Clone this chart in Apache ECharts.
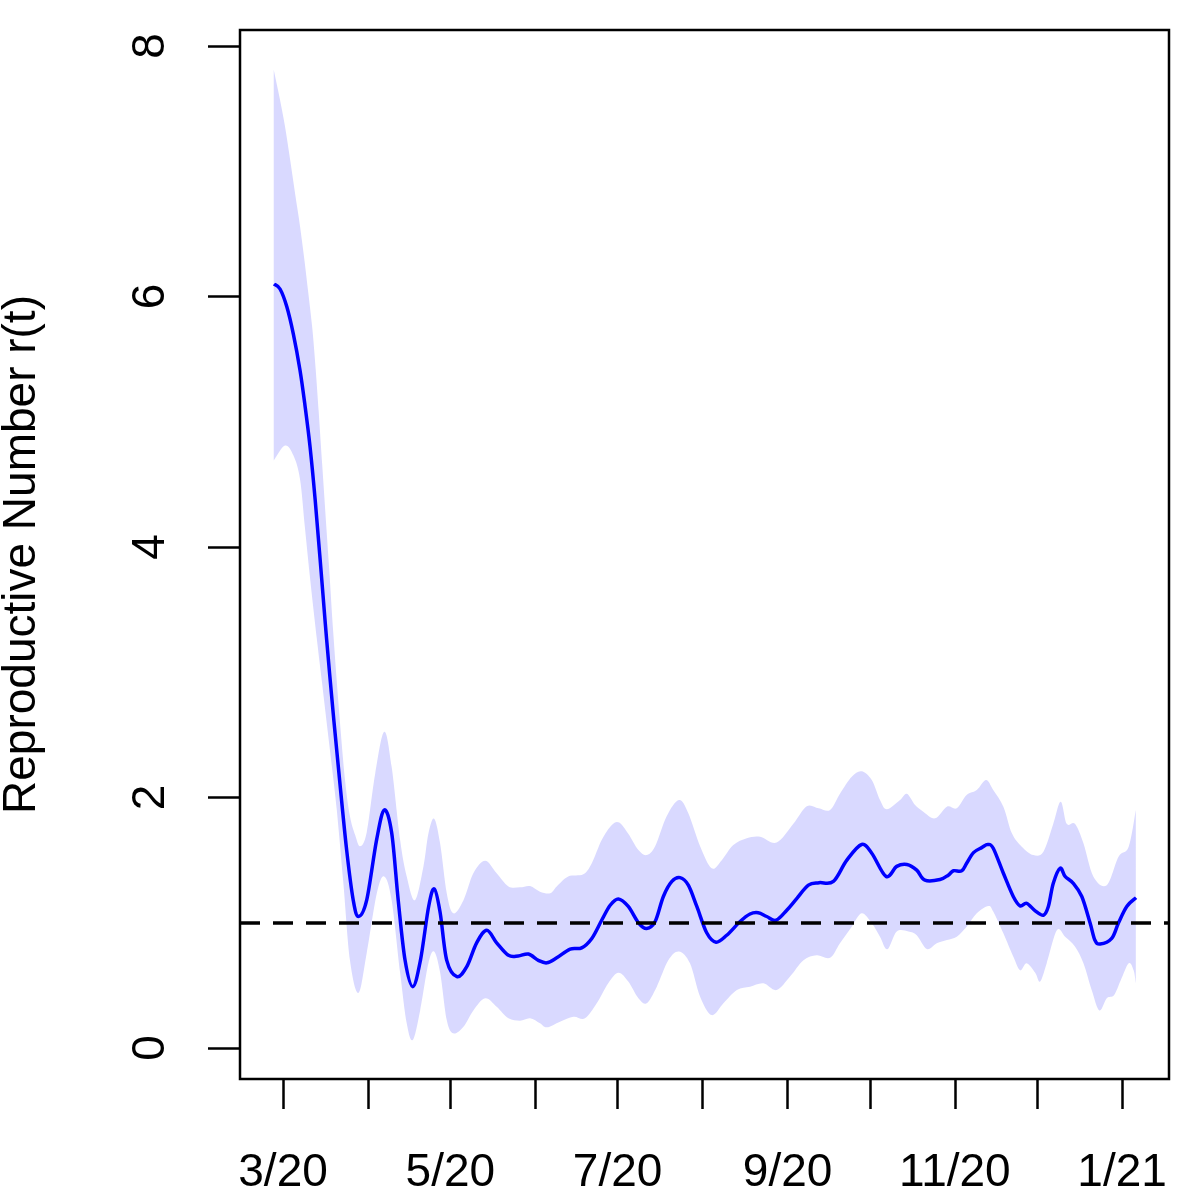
<!DOCTYPE html>
<html>
<head>
<meta charset="utf-8">
<script src="https://cdn.jsdelivr.net/npm/echarts@6/dist/echarts.min.js"></script>
<style>
html,body{margin:0;padding:0;background:#ffffff;}
#chart{width:1200px;height:1200px;}
</style>
</head>
<body>
<div id="chart"></div>
<script>
// Days are counted from 2020-03-01 (day 0).
const tickDays   = [0, 31, 61, 92, 122, 153, 184, 214, 245, 275, 306];
const tickLabels = ['3/20', '', '5/20', '', '7/20', '', '9/20', '', '11/20', '', '1/21'];
const yTicks = [0, 2, 4, 6, 8];
const threshold = 1;

const meanDays = [-3.3, -1.1, 1.35, 3.76, 6.2, 8.0, 9.85, 11.7, 13.75, 15.9, 18.3, 20.8, 23.2, 25.6, 27.5, 30.5, 34.1, 36.9, 39.6, 42.0,
  44.5, 47.3, 50.1, 53.1, 55.2, 57.3, 59.7, 63.4, 67.0, 70.6, 74.3, 77.9, 82.2, 85.8, 89.5, 93.1, 96.2, 99.8, 104.7, 108.9,
  112.6, 116.2, 119.3, 122.3, 125.9, 129.6, 132.6, 135.7, 138.7, 141.8, 144.8, 147.8, 150.9, 154.5, 157.9, 161.8, 166.7, 170.3, 173.3, 176.4,
  179.8, 183.7, 187.4, 191.6, 195.5, 200.7, 205.6, 211.0, 214.7, 219.9, 223.8, 227.5, 231.1, 234.1, 239.6, 242.6, 244.5, 247.5, 249.3, 251.8,
  254.8, 257.0, 259.0, 262.7, 266.3, 268.8, 271.2, 274.3, 277.3, 279.1, 280.9, 283.4, 285.2, 288.2, 291.3, 294.3, 296.1, 298.0, 302.2, 304.7,
  307.7, 311.1];
const meanR = [6.10, 6.06, 5.92, 5.70, 5.41, 5.13, 4.80, 4.38, 3.84, 3.26, 2.67, 2.10, 1.58, 1.18, 1.05, 1.18, 1.66, 1.90, 1.72, 1.18,
  0.70, 0.49, 0.70, 1.13, 1.27, 1.08, 0.70, 0.57, 0.65, 0.84, 0.94, 0.84, 0.74, 0.735, 0.75, 0.70, 0.68, 0.72, 0.79, 0.80,
  0.875, 1.02, 1.14, 1.19, 1.13, 1.00, 0.955, 1.01, 1.21, 1.33, 1.36, 1.30, 1.13, 0.92, 0.845, 0.90, 1.01, 1.07, 1.08, 1.05,
  1.02, 1.10, 1.195, 1.30, 1.32, 1.33, 1.50, 1.625, 1.555, 1.37, 1.45, 1.465, 1.42, 1.34, 1.345, 1.38, 1.415, 1.415, 1.475, 1.56,
  1.60, 1.625, 1.595, 1.395, 1.21, 1.135, 1.155, 1.095, 1.06, 1.13, 1.315, 1.435, 1.37, 1.315, 1.21, 1.00, 0.86, 0.83, 0.875, 1.00,
  1.13, 1.20];

const upperDays = [-3.4, -1.1, 0.7, 2.6, 4.4, 6.2, 7.8, 9.2, 10.7, 11.9, 13.0, 14.3, 15.6, 16.9, 18.3, 20.5, 22.6, 24.4, 26.3, 28.1,
  30.5, 33.6, 36.9, 39.6, 42.7, 45.1, 48.1, 51.2, 53.0, 55.1, 57.3, 59.7, 62.1, 65.8, 69.4, 73.7, 77.9, 82.2, 86.4, 90.1,
  93.7, 97.4, 99.8, 104.0, 109.5, 112.6, 116.2, 119.9, 122.6, 125.9, 129.6, 132.6, 135.7, 139.9, 144.4, 147.8, 152.1, 156.3, 160.0, 164.2,
  169.1, 174.0, 180.0, 186.1, 191.0, 195.3, 199.5, 203.1, 207.4, 211.0, 214.7, 217.7, 220.2, 225.0, 227.5, 230.5, 233.5, 237.8, 242.1, 245.7,
  249.3, 253.0, 256.4, 259.0, 262.7, 265.8, 269.4, 273.6, 277.3, 280.9, 283.6, 285.8, 288.8, 291.9, 295.5, 300.4, 304.7, 308.4, 311.0];
const upperR = [7.81, 7.57, 7.36, 7.09, 6.82, 6.56, 6.29, 6.03, 5.74, 5.42, 5.08, 4.65, 4.22, 3.80, 3.32, 2.67, 2.14, 1.85, 1.70, 1.61,
  1.72, 2.19, 2.525, 2.245, 1.66, 1.37, 1.18, 1.45, 1.71, 1.83, 1.63, 1.235, 1.075, 1.18, 1.395, 1.495, 1.395, 1.29, 1.283, 1.293,
  1.248, 1.235, 1.29, 1.37, 1.387, 1.475, 1.66, 1.78, 1.80, 1.71, 1.58, 1.54, 1.61, 1.85, 1.98, 1.874, 1.61, 1.435, 1.50, 1.62,
  1.675, 1.687, 1.64, 1.79, 1.93, 1.914, 1.90, 2.03, 2.166, 2.21, 2.14, 1.98, 1.906, 1.98, 2.03, 1.94, 1.887, 1.834, 1.927, 1.914,
  2.02, 2.06, 2.14, 2.06, 1.927, 1.714, 1.607, 1.54, 1.567, 1.79, 1.967, 1.79, 1.79, 1.634, 1.37, 1.30, 1.527, 1.607, 1.90];

const lowerDays = [-3.4, 0.7, 3.8, 6.2, 8.0, 10.0, 12.3, 14.2, 16.0, 17.8, 19.6, 22.0, 24.4, 27.5, 30.5, 34.2, 36.9, 39.6, 42.7, 45.1,
  47.3, 50.0, 53.0, 55.1, 57.3, 59.7, 62.1, 65.8, 69.4, 73.7, 77.9, 82.2, 86.4, 90.1, 93.7, 96.2, 101.0, 105.9, 110.1, 114.4,
  118.6, 122.3, 125.9, 129.6, 132.6, 136.3, 140.5, 144.4, 148.4, 152.1, 156.3, 160.6, 165.5, 170.3, 175.2, 180.0, 184.9, 189.8, 194.6, 199.5,
  203.1, 207.4, 211.0, 214.7, 217.7, 220.4, 223.8, 228.1, 231.1, 234.8, 238.4, 242.1, 245.7, 249.3, 253.0, 257.2, 259.0, 262.7, 266.3, 268.8,
  271.2, 274.3, 276.1, 278.5, 282.2, 285.2, 288.8, 291.9, 294.9, 297.7, 300.4, 303.1, 305.5, 308.4, 310.2, 311.0];
const lowerR = [4.69, 4.81, 4.73, 4.54, 4.15, 3.72, 3.27, 2.92, 2.58, 2.25, 1.90, 1.315, 0.70, 0.44, 0.756, 1.235, 1.37, 1.18, 0.60, 0.197,
  0.064, 0.30, 0.676, 0.77, 0.60, 0.224, 0.117, 0.17, 0.30, 0.397, 0.33, 0.237, 0.218, 0.237, 0.197, 0.165, 0.21, 0.25, 0.237, 0.357,
  0.517, 0.60, 0.53, 0.397, 0.357, 0.49, 0.70, 0.77, 0.676, 0.41, 0.263, 0.357, 0.463, 0.49, 0.517, 0.463, 0.57, 0.70, 0.74, 0.72,
  0.836, 0.968, 1.075, 0.996, 0.889, 0.788, 0.93, 0.93, 0.90, 0.79, 0.836, 0.862, 0.889, 0.968, 1.075, 1.134, 1.09, 0.916, 0.73, 0.62,
  0.676, 0.60, 0.53, 0.676, 0.94, 0.889, 0.81, 0.676, 0.463, 0.30, 0.397, 0.423, 0.54, 0.676, 0.62, 0.517];

const FONT = 'Liberation Sans, Arial, Helvetica, sans-serif';
const BAND = '#d9d9ff';

function splinePath(pts, move) {
  let d = (move ? 'M' : 'L') + pts[0][0] + ',' + pts[0][1];
  for (let i = 0; i < pts.length - 1; i++) {
    const p0 = pts[i - 1] || pts[i];
    const p1 = pts[i];
    const p2 = pts[i + 1];
    const p3 = pts[i + 2] || pts[i + 1];
    const c1x = p1[0] + (p2[0] - p0[0]) / 6, c1y = p1[1] + (p2[1] - p0[1]) / 6;
    const c2x = p2[0] - (p3[0] - p1[0]) / 6, c2y = p2[1] - (p3[1] - p1[1]) / 6;
    d += 'C' + c1x + ',' + c1y + ',' + c2x + ',' + c2y + ',' + p2[0] + ',' + p2[1];
  }
  return d;
}

const chart = echarts.init(document.getElementById('chart'), null, {renderer: 'canvas'});
const labelDays = tickDays.filter((d, i) => tickLabels[i] !== '');

chart.setOption({
  animation: false,
  backgroundColor: '#ffffff',
  grid: {
    left: 240, top: 30, width: 929, height: 1049,
    containLabel: false, outerBoundsMode: 'none',
    show: true, borderColor: '#000000', borderWidth: 2.5, backgroundColor: 'transparent'
  },
  xAxis: {
    type: 'value', min: -15.7, max: 323.1,
    axisLine: {show: false, onZero: false},
    splitLine: {show: false},
    axisTick: {show: true, customValues: tickDays, length: 30, inside: false,
      lineStyle: {color: '#000', width: 2.5}},
    axisLabel: {show: true, customValues: labelDays, margin: 71,
      fontSize: 46, fontFamily: FONT, color: '#000',
      formatter: v => tickLabels[tickDays.indexOf(Math.round(v))] || ''}
  },
  yAxis: {
    type: 'value', min: -0.2475, max: 8.128,
    axisLine: {show: false, onZero: false},
    splitLine: {show: false},
    axisTick: {show: true, customValues: yTicks, length: 32, inside: false,
      lineStyle: {color: '#000', width: 2.5}},
    axisLabel: {show: true, customValues: yTicks, rotate: 90, margin: 66,
      fontSize: 46, fontFamily: FONT, color: '#000'},
    name: 'Reproductive Number r(t)',
    nameLocation: 'middle', nameGap: 195,
    nameTextStyle: {fontSize: 46, fontFamily: FONT, color: '#000'}
  },
  series: [
    {
      type: 'custom',
      silent: true,
      z: 1,
      data: [[0, 0]],
      renderItem: function (params, api) {
        const up = upperDays.map((d, i) => api.coord([d, upperR[i]]));
        const lo = lowerDays.map((d, i) => api.coord([d, lowerR[i]])).reverse();
        const d = splinePath(up, true) + splinePath(lo, false) + 'Z';
        return {type: 'path', shape: {pathData: d}, style: {fill: BAND, stroke: null}};
      }
    },
    {
      type: 'custom',
      silent: true,
      z: 3,
      data: [[0, 0]],
      renderItem: function (params, api) {
        const pts = meanDays.map((d, i) => api.coord([d, meanR[i]]));
        return {type: 'path', shape: {pathData: splinePath(pts, true)},
          style: {fill: null, stroke: '#0000ff', lineWidth: 3.5, lineJoin: 'round', lineCap: 'butt'}};
      }
    },
    {
      type: 'line',
      z: 2,
      silent: true,
      showSymbol: false,
      symbol: 'none',
      data: [],
      markLine: {
        silent: true, symbol: 'none', label: {show: false},
        lineStyle: {color: '#000', type: [20, 13], width: 3.5},
        data: [{yAxis: threshold}]
      }
    }
  ]
});
</script>
</body>
</html>
